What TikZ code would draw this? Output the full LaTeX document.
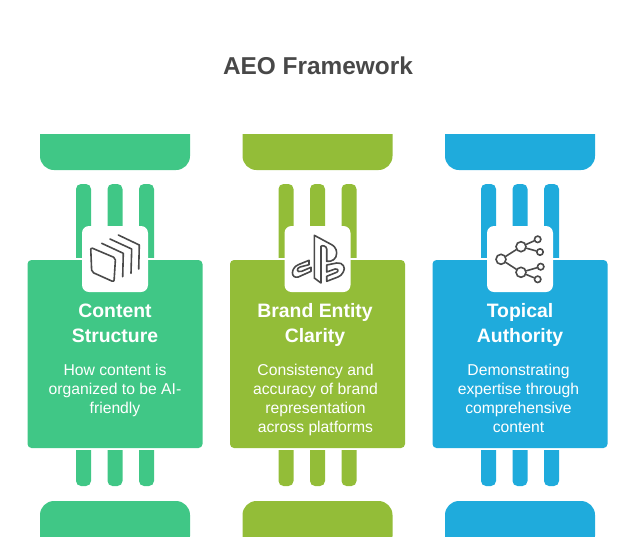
\documentclass[tikz,border=0pt]{standalone}
\usepackage{fontspec}
\setmainfont{Liberation Sans}
\usetikzlibrary{positioning,calc}

\definecolor{cgreen}{HTML}{40C786}
\definecolor{colive}{HTML}{93BD38}
\definecolor{cblue}{HTML}{1FABDC}
\definecolor{cink}{HTML}{484848}
\definecolor{cicon}{HTML}{4A4A4A}

\begin{document}
\begin{tikzpicture}[x=1pt,y=-1pt]
\tikzset{
  card/.style    = {rectangle, rounded corners=4pt, minimum width=175pt, minimum height=188pt, inner sep=0pt},
  iconbox/.style = {rectangle, rounded corners=7pt, fill=white, minimum width=66pt, minimum height=66pt, inner sep=0pt},
  title/.style   = {text=cink, font=\bfseries\fontsize{24.4}{30}\selectfont},
  head/.style    = {text=white, align=center, font=\bfseries\fontsize{19.4}{25}\selectfont},
  desc/.style    = {text=white, align=center, font=\fontsize{15.7}{19}\selectfont},
  iconline/.style = {draw=cicon, line width=1.6pt, line join=round, line cap=round},
}
\useasboundingbox (0,0) rectangle (633,558);

\node[title] (heading) at (318,66) {AEO Framework};

% the three columns
\foreach \cx/\colr/\nm in {115/cgreen/a, 317.5/colive/b, 520/cblue/c} {
  \fill[\colr, rounded corners=14pt] (\cx-75,120) rectangle (\cx+75,170);
  \fill[white] (\cx-76,120) rectangle (\cx+76,134);
  \fill[\colr, rounded corners=14pt] (\cx-75,501) rectangle (\cx+75,550);
  \fill[white] (\cx-76,537) rectangle (\cx+76,552);
  \foreach \dx in {-31.5,0,31.5} {
    \fill[\colr, rounded corners=5pt] (\cx+\dx-7.5,184) rectangle (\cx+\dx+7.5,270);
    \fill[\colr, rounded corners=5pt] (\cx+\dx-7.5,440) rectangle (\cx+\dx+7.5,486);
  }
  \fill[white] (\cx-45,258) rectangle (\cx+45,260);
  \fill[white] (\cx-45,448) rectangle (\cx+45,450);
  \node[card, fill=\colr] (card\nm) at (\cx,354) {};
  \node[iconbox] (icon\nm) at (\cx,259) {};
}

\node[head] (heada) at (115,325) {\strut Content\\Structure\strut};
\node[head] (headb) at (315,325) {\strut Brand Entity\\Clarity\strut};
\node[head] (headc) at (520,325) {\strut Topical\\Authority\strut};

\node[desc] (desca) at (115,391) {\strut How content is\\organized to be AI-\\friendly\strut};
\node[desc] (descb) at (315.5,400) {\strut Consistency and\\accuracy of brand\\representation\\across platforms\strut};
\node[desc] (descc) at (518.5,400) {\strut Demonstrating\\expertise through\\comprehensive\\content\strut};

% icon a
\draw[iconline, rounded corners=2pt] (90.7,247.5) -- (115.5,258) -- (114,282) -- (91.7,272) -- cycle;
\draw[iconline] (101.7,243.3) -- (123.3,253.3) -- (122.7,276.7);
\draw[iconline] (110,239) -- (131.7,249) -- (131,273.3);
\draw[iconline] (118.3,235) -- (139.3,245) -- (138.7,269);

% icon b
\draw[iconline] (314.3,235.3) -- (314.3,278) -- (321,283) -- (321,246.3)
  .. controls (322,245) and (326.7,246) .. (326.7,249) -- (326.7,261.3)
  .. controls (332,262) and (336.7,259) .. (336.7,253)
  .. controls (336.7,248) and (333,245.5) .. (331.7,244.7) -- cycle;
\draw[iconline] (309,260.3) -- (298.3,264.7)
  .. controls (290.5,268) and (290.5,279) .. (298.3,277) -- (311,271.3) -- (311,267.3) -- (301.7,271.3)
  .. controls (296,273) and (296.5,268) .. (300,267) -- (309,264.7) -- cycle;
\draw[iconline] (326.7,265) -- (336.7,263)
  .. controls (343,262) and (346,268) .. (343.3,272)
  .. controls (342,275) and (340,276) .. (338,277) -- (326.7,281.3) -- (326.7,276.3) -- (336.7,272.3)
  .. controls (339,271) and (338,268.5) .. (335,269) -- (326.7,272) -- cycle;

% icon c
\foreach \nm/\px/\py/\rr in {r/501/259.3/5, m/521/246.7/5, n/521/272.3/5, p/537.7/239.3/3.2, q/540/252/3.2, s/540.7/266.7/3.2, t/537.7/279.3/3.2} {
  \node[circle, draw=cicon, line width=1.6pt, minimum size=2*\rr pt, inner sep=0pt] (\nm) at (\px,\py) {};
}
\foreach \from/\to in {r/m, r/n, m/p, m/q, n/s, n/t}
  \draw[iconline] (\from) -- (\to);
\end{tikzpicture}
\end{document}
